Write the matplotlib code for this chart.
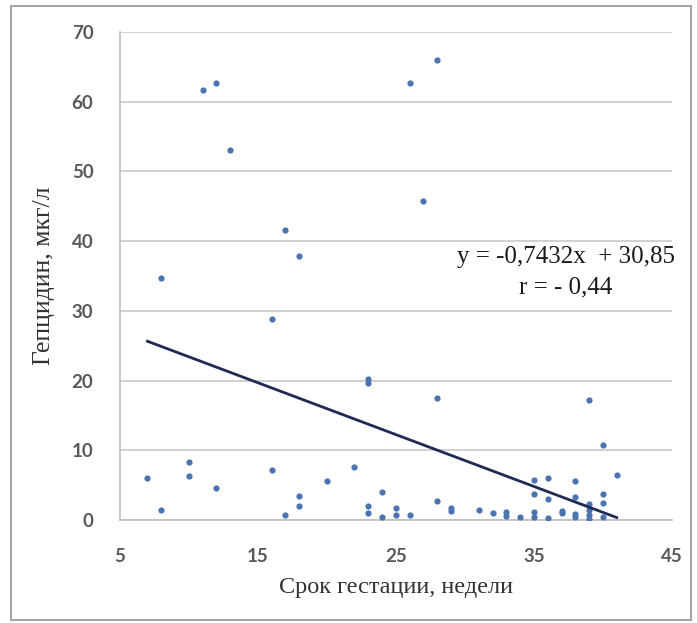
import matplotlib.pyplot as plt
import numpy as np
from matplotlib.patches import Rectangle

# срок гестации (недели) и гепцидин (мкг/л)
weeks = [7, 8, 8, 10, 10, 11, 12, 12, 13, 16, 16, 17, 17, 18, 18, 18, 20, 22,
         23, 23, 23, 23, 24, 24, 25, 25, 26, 26, 27, 28, 28, 28, 29, 29, 31, 32,
         33, 33, 34, 35, 35, 35, 35, 36, 36, 36, 37, 37, 38, 38, 38, 38,
         39, 39, 39, 39, 39, 40, 40, 40, 40, 41]
hepcidin = [6.0, 1.4, 34.7, 8.4, 6.3, 61.7, 62.6, 4.6, 53.0, 28.8, 7.2, 41.6, 0.7, 37.8, 3.4, 2.0, 5.6, 7.6,
            20.2, 19.6, 2.1, 1.1, 4.0, 0.5, 1.8, 0.7, 0.8, 62.6, 45.7, 65.9, 17.5, 2.7, 1.7, 1.3, 1.4, 1.1,
            1.2, 0.6, 0.5, 5.7, 3.7, 1.2, 0.4, 6.0, 3.0, 0.3, 1.3, 1.0, 5.6, 3.3, 0.9, 0.4,
            17.2, 2.3, 1.5, 0.8, 0.2, 10.8, 3.7, 2.5, 0.4, 6.5]

slope = -0.7432
intercept = 30.85
eq_text = "y = -0,7432x  + 30,85"
r_text = "r = - 0,44"

plt.rcParams['font.family'] = ['Liberation Serif', 'DejaVu Serif']

fig = plt.figure(figsize=(6.97, 6.23), dpi=100)
ax = fig.add_axes([0.172, 0.165, 0.792, 0.784])

# рамка вокруг диаграммы
fig.patches.append(Rectangle((0.016, 0.005), 0.975, 0.985, transform=fig.transFigure,
                             fill=False, edgecolor='#a6a6a6', linewidth=1.5))

ax.scatter(weeks, hepcidin, s=20, color='#4a74b0', zorder=3, linewidths=0)

xl = np.array([min(weeks), max(weeks)])
ax.plot(xl, slope * xl + intercept, color='#1f2a56', linewidth=2, zorder=4)

ax.set_xlim(5, 45)
ax.set_ylim(0, 70)
ax.set_xticks([5, 15, 25, 35, 45])
ax.set_yticks(range(0, 80, 10))
ax.grid(axis='y', color='#c8c8c8', linewidth=1.2)
ax.set_axisbelow(True)
for s in ['top', 'right']:
    ax.spines[s].set_visible(False)
ax.spines['left'].set_color('#bfbfbf')
ax.spines['bottom'].set_color('#bfbfbf')
ax.spines['left'].set_linewidth(1.2)
ax.spines['bottom'].set_linewidth(1.2)
ax.tick_params(axis='y', length=0, pad=19, labelsize=13.5, labelcolor='#595959')
ax.tick_params(axis='x', length=0, pad=20, labelsize=13.5, labelcolor='#595959')
for lab in ax.get_xticklabels() + ax.get_yticklabels():
    lab.set_family(['Lato', 'DejaVu Sans'])
    lab.set_fontweight('bold')

ax.set_xlabel("Срок гестации, недели", fontsize=17.5, color='#333333', labelpad=9)
ax.set_ylabel("Гепцидин, мкг/л", fontsize=18.5, color='#333333', labelpad=12)

ax.text(37.3, 37.7, eq_text, fontsize=18, ha='center', va='center', color='#1a1a1a')
ax.text(37.3, 33.4, r_text, fontsize=18, ha='center', va='center', color='#1a1a1a')

fig.savefig('out.png', dpi=100)
